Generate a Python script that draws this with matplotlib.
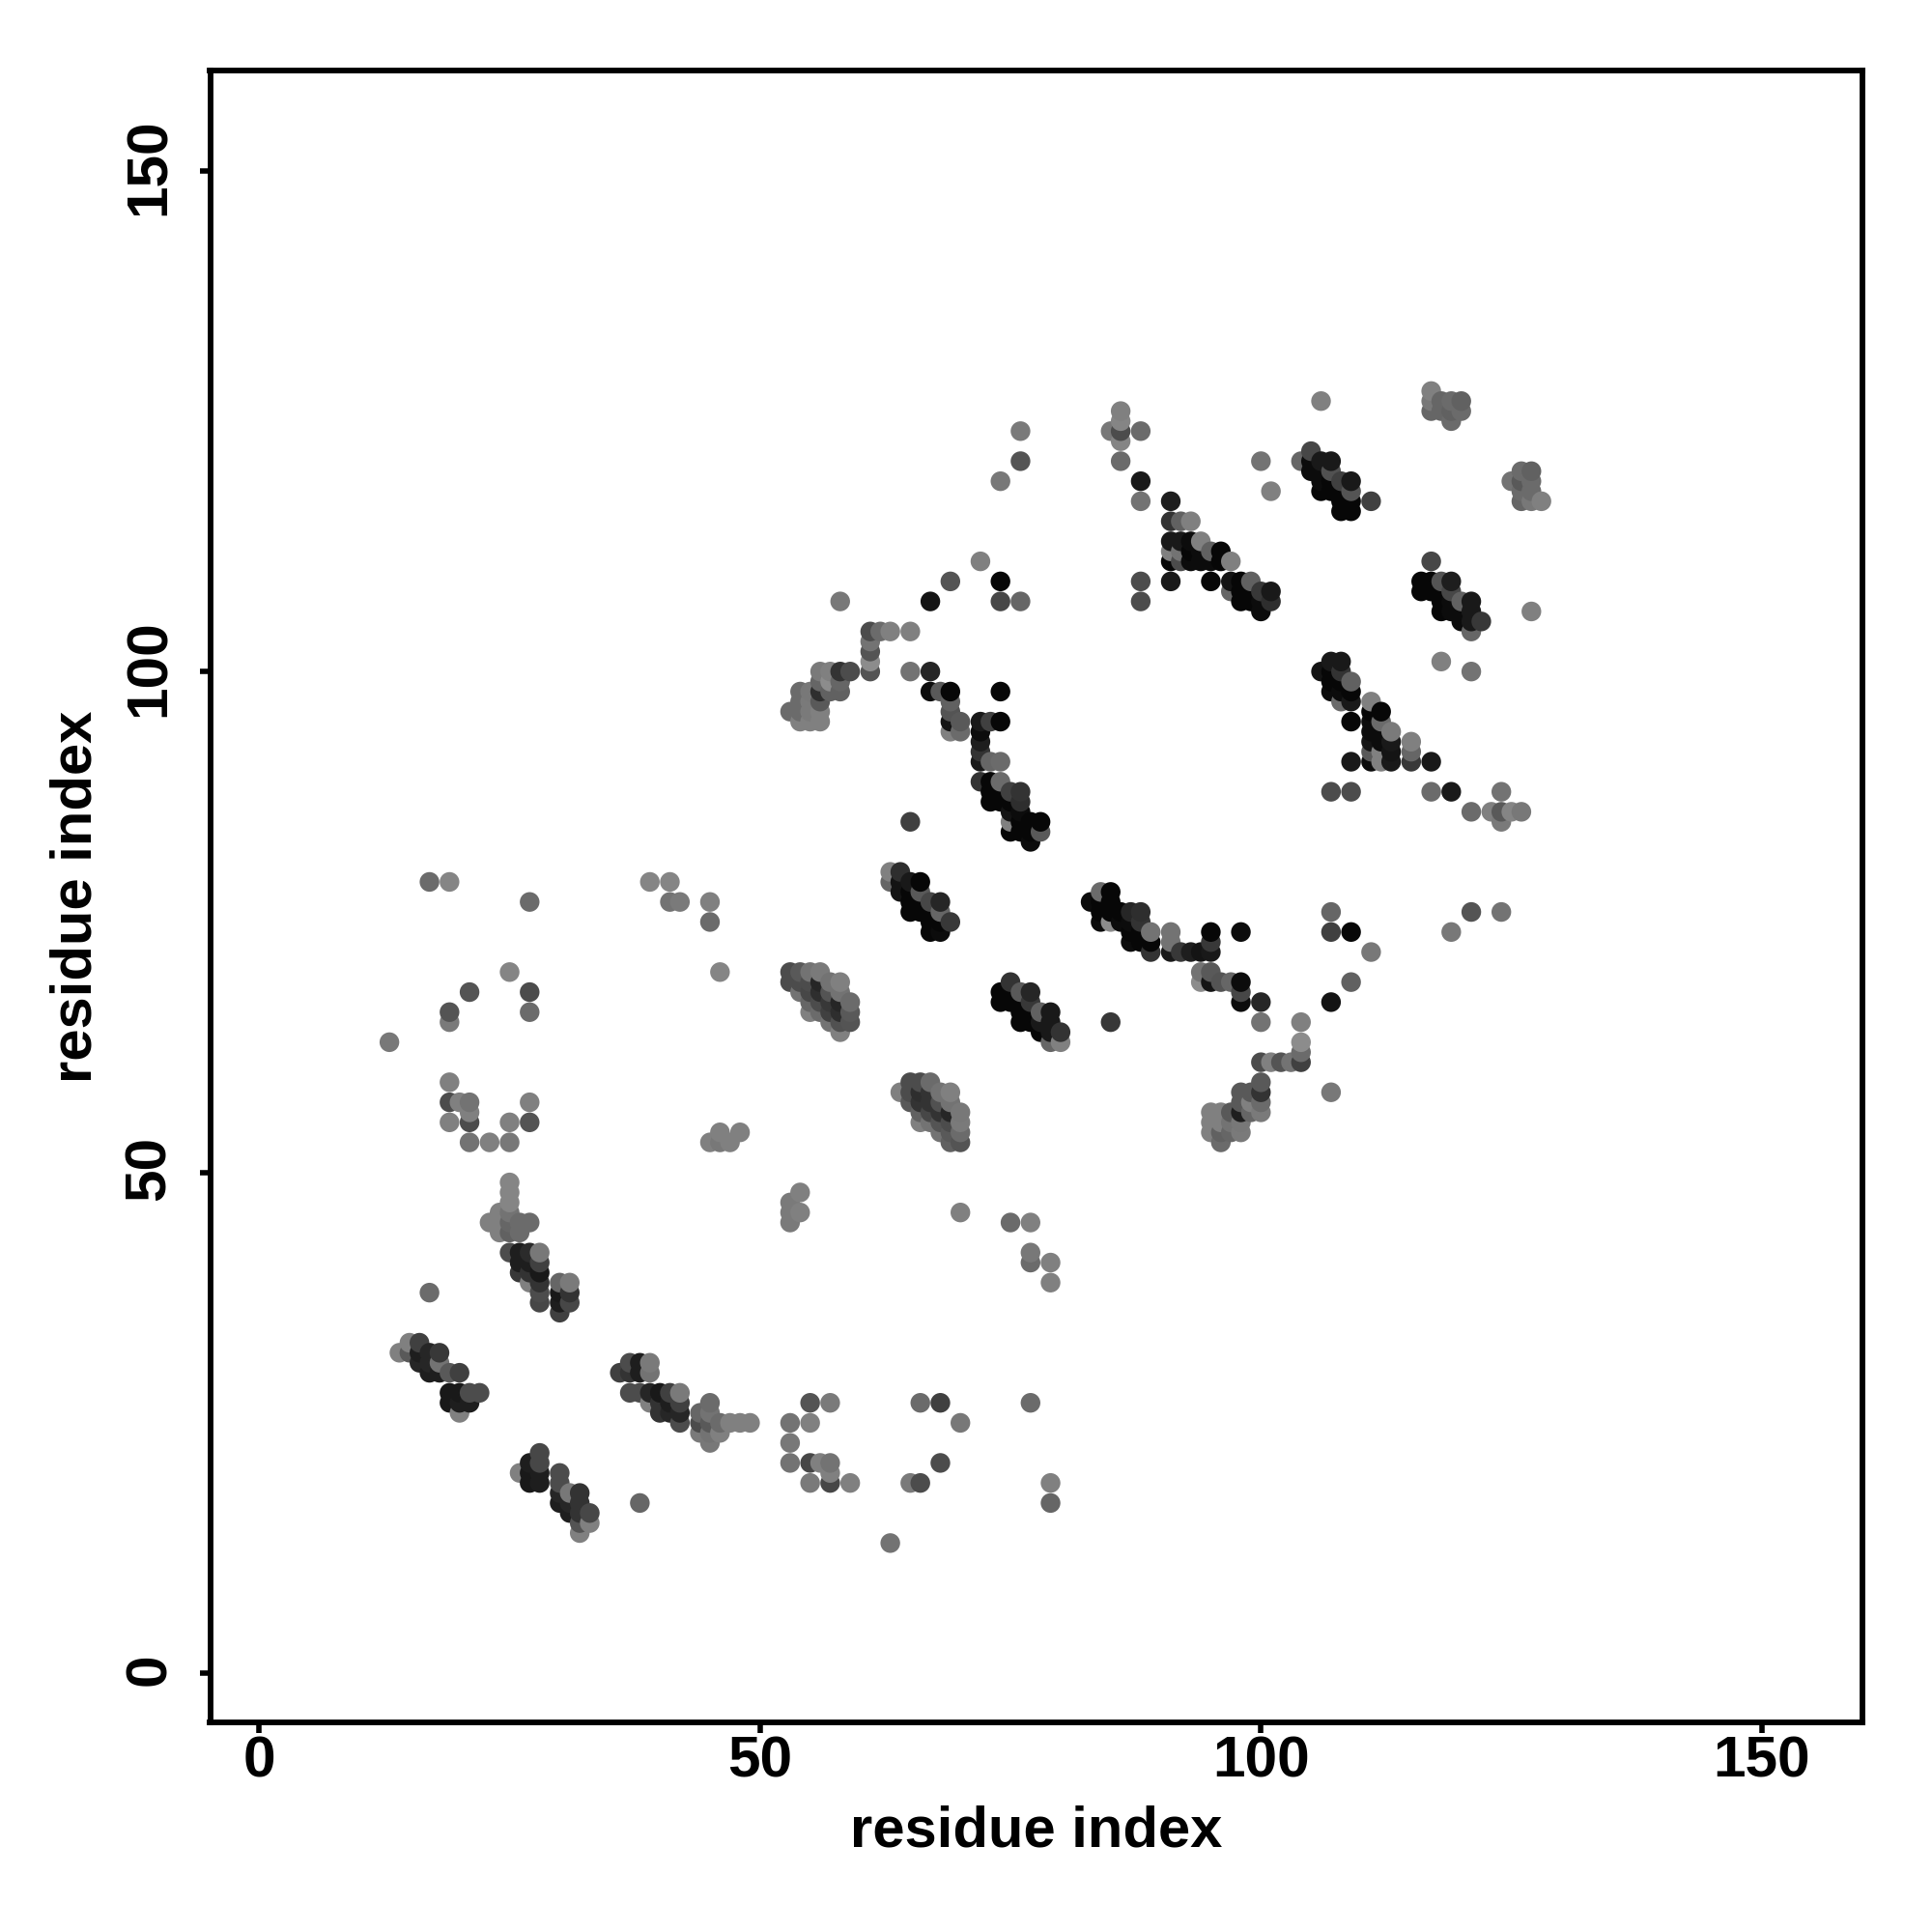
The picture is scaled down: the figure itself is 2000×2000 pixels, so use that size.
import numpy as np
import matplotlib
matplotlib.use("Agg")
import matplotlib.pyplot as plt
from matplotlib.transforms import ScaledTranslation

# (residue i, residue j, grey score), one list per patch
scattered_low = [
    (17,79,.42),(19,79,.52),(27,77,.42),(39,79,.52),(41,79,.52),(41,77,.45),(42,77,.48),(45,77,.5),(45,75,.42),
    (25,70,.52),(46,70,.52),(21,68,.33),(27,68,.3),(27,66,.42),(19,66,.33),(19,65,.48),(13,63,.47),(19,59,.5),
    (19,57,.3),(20,57,.5),(21,57,.45),(21,56,.5),(21,55,.3),(19,55,.5),(25,55,.5),(27,57,.5),(27,55,.33),
    (21,53,.45),(23,53,.5),(25,53,.47),(45,53,.5),(46,53,.47),(47,53,.5),(46,54,.5),(48,54,.5),(17,38,.42),(38,17,.4),
    (54,48,.5),(53,47,.48),(53,46,.48),(53,45,.48),(54,46,.5),(70,46,.5),(75,45,.42),(77,45,.5),(77,42,.47),
    (77,41,.42),(79,41,.5),(79,39,.5),
]
scattered_bottom = [
    (53,25,.45),(55,27,.33),(57,27,.48),(55,25,.5),(53,23,.47),(53,21,.45),(55,21,.28),(56,21,.5),(57,21,.45),
    (57,20,.5),(57,19,.28),(55,19,.48),(59,19,.5),(66,27,.42),(68,27,.25),(70,25,.47),(77,27,.42),(68,21,.3),
    (65,19,.48),(66,19,.3),(79,19,.5),(79,17,.4),(63,13,.45),
]
patch_25_45 = [
    (25,49,.52),(25,48,.52),(25,47,.52),(25,46,.45),(25,45,.4),(25,44,.38),(23,45,.5),(24,46,.5),(24,44,.5),(24,45,.5),
    (26,45,.42),(26,44,.42),(27,45,.42),(25,42,.3),(26,42,.12),(26,41,.12),(26,40,.22),(27,42,.17),(27,41,.12),
    (27,40,.2),(27,39,.5),(28,42,.47),(28,41,.25),(28,40,.1),(28,39,.2),(28,38,.3),(28,37,.28),(30,39,.4),(30,38,.1),
    (30,37,.12),(30,36,.25),(31,39,.48),(31,38,.2),(31,37,.28),
]
patch_15_30 = [
    (14,32,.5),(15,33,.5),(15,32,.35),(16,33,.25),(16,32,.12),(16,31,.15),(17,32,.15),(17,31,.15),(17,30,.12),
    (18,32,.22),(18,31,.45),(18,30,.12),(19,30,.35),(20,30,.25),(19,28,.1),(19,27,.1),(20,28,.1),(20,27,.12),
    (20,26,.5),(21,28,.3),(21,27,.12),(22,28,.3),
]
patch_37_28 = [
    (36,30,.25),(37,31,.3),(37,30,.2),(38,31,.12),(38,30,.12),(39,31,.48),(39,30,.45),(37,28,.3),(38,28,.3),
    (39,28,.15),(39,27,.5),(40,28,.1),(40,27,.2),(40,26,.2),(41,28,.25),(41,27,.12),(41,26,.15),(42,28,.48),
    (42,27,.25),(42,26,.15),(42,25,.3),(44,26,.4),(44,25,.3),(44,24,.48),(45,27,.42),(45,26,.45),(45,25,.35),
    (45,24,.45),(45,23,.47),(46,25,.42),(46,24,.5),(47,25,.5),(48,25,.5),(49,25,.5),
]
patch_28_18 = [
    (27,21,.12),(26,20,.5),(27,20,.1),(27,19,.1),(28,22,.28),(28,21,.28),(28,20,.12),(28,19,.12),(30,20,.3),
    (30,19,.3),(30,18,.15),(30,17,.12),(31,18,.47),(31,17,.15),(31,16,.12),(32,18,.2),(32,17,.2),(32,16,.2),
    (32,15,.33),(32,14,.5),(33,16,.28),(33,15,.5),
]
patch_67_56 = [
    (64,58,.5),(65,59,.3),(65,58,.3),(65,57,.35),(66,59,.3),(66,58,.18),(66,57,.2),(66,56,.38),(66,55,.5),(67,59,.42),
    (67,58,.2),(67,57,.2),(67,56,.28),(67,55,.45),(68,58,.45),(68,57,.32),(68,56,.2),(68,55,.33),(68,54,.45),
    (69,58,.5),(69,57,.45),(69,56,.15),(69,55,.3),(69,54,.35),(69,53,.38),(70,56,.47),(70,55,.48),(70,54,.42),(70,53,.33),
]
patch_56_67 = [
    (53,70,.3),(54,70,.35),(55,70,.45),(56,70,.48),(53,69,.3),(54,69,.3),(54,68,.45),(55,69,.3),(55,68,.28),(55,67,.4),
    (55,66,.5),(56,69,.15),(56,68,.18),(56,67,.3),(56,66,.42),(57,69,.45),(57,68,.33),(57,67,.22),(57,66,.25),(57,65,.45),
    (58,69,.5),(58,68,.45),(58,67,.15),(58,66,.18),(58,65,.32),(58,64,.5),(59,67,.42),(59,66,.35),(59,65,.33),
]
patch_77_66 = [
    (75,69,.2),(74,68,.03),(74,67,.03),(76,68,.35),(77,68,.15),(75,68,.03),(75,67,.03),(76,67,.03),(76,66,.03),(76,65,.03),
    (77,67,.22),(77,66,.03),(77,65,.03),(78,66,.38),(78,65,.1),(78,64,.03),(79,66,.1),(79,65,.1),(79,64,.1),(79,63,.4),
    (80,64,.2),(80,63,.5),(85,65,.22),
]
scattered_mid = [
    (72,111,.5),(69,109,.33),(74,109,.03),(58,107,.47),(67,107,.08),(74,107,.28),(76,107,.4),(88,109,.3),(88,107,.3),
    (65,104,.5),(65,100,.45),(67,100,.15),(74,98,.03),(65,85,.25),(76,124,.48),(76,121,.33),(74,119,.47),
]
patch_57_98 = [
    (61,104,.3),(62,104,.42),(63,104,.5),(61,103,.45),(61,102,.33),(61,101,.55),(61,100,.33),(56,100,.48),(57,100,.5),
    (58,100,.2),(59,100,.3),(56,99,.4),(54,98,.42),(55,98,.47),(56,98,.18),(57,98,.38),(58,98,.38),(57,99,.55),(58,99,.4),
    (56,97,.35),(54,97,.42),(55,97,.48),(53,96,.42),(54,96,.42),(55,96,.48),(56,96,.5),(54,95,.5),(55,95,.5),(56,95,.5),
]
patch_72_92 = [
    (67,98,.05),(68,98,.35),(69,98,.03),(69,97,.38),(69,96,.33),(69,95,.08),(69,94,.5),(70,95,.35),(70,94,.42),
    (72,95,.1),(73,95,.25),(74,95,.03),(72,94,.05),(72,93,.12),(72,92,.2),(72,91,.1),(73,91,.4),(74,91,.42),
]
patch_75_86 = [
    (72,89,.2),(73,89,.03),(74,89,.42),(73,88,.03),(73,87,.03),(74,88,.03),(74,87,.03),(75,88,.25),(76,88,.2),(75,87,.03),
    (76,87,.18),(75,86,.08),(76,86,.05),(75,85,.5),(75,84,.03),(76,85,.03),(76,84,.03),(77,85,.03),(77,84,.03),(77,83,.05),
    (78,85,.03),(78,84,.35),
]
patch_66_77 = [
    (63,80,.5),(63,79,.4),(64,80,.18),(64,79,.08),(64,78,.08),(65,79,.1),(65,78,.03),(65,77,.03),(65,76,.03),(66,79,.03),
    (66,78,.35),(66,77,.03),(66,76,.03),(67,77,.28),(67,76,.03),(67,75,.03),(67,74,.03),(68,77,.15),(68,76,.4),(68,75,.03),
    (68,74,.05),(69,75,.22),
]
patch_86_75 = [
    (83,77,.05),(84,78,.42),(85,78,.03),(84,77,.03),(84,76,.03),(84,75,.05),(85,77,.03),(85,76,.03),(85,75,.55),(86,76,.03),
    (86,75,.05),(87,76,.15),(87,75,.05),(87,74,.03),(87,73,.05),(88,76,.18),(88,75,.2),(88,74,.03),(88,73,.03),(89,74,.45),
    (89,73,.03),(89,72,.2),(91,74,.45),(91,73,.45),(91,72,.1),(92,72,.22),(93,72,.12),(94,72,.08),(95,74,.03),(95,73,.22),
    (95,72,.1),(98,74,.05),(94,70,.45),(94,69,.55),(95,70,.35),(95,69,.08),(96,69,.33),(97,69,.4),(98,69,.05),(98,68,.28),
    (98,67,.05),(100,67,.15),
]
patch_100_60 = [
    (100,65,.45),(104,65,.5),(104,63,.55),(104,62,.42),(104,61,.25),(100,61,.3),(101,61,.5),(102,61,.33),(103,61,.45),
    (100,59,.35),(100,58,.2),(100,57,.42),(100,56,.48),(98,58,.35),(99,58,.35),(98,57,.35),(99,57,.5),(98,56,.12),(99,56,.4),
    (97,56,.35),(95,56,.5),(96,56,.5),(95,55,.5),(96,55,.5),(97,55,.45),(98,55,.47),(95,54,.5),(96,54,.38),(97,54,.4),
    (98,54,.48),(96,53,.42),(107,58,.47),
]
scattered_right = [
    (107,76,.4),(107,74,.25),(109,74,.03),(109,69,.38),(107,67,.08),(111,72,.47),(121,76,.33),(124,76,.45),(119,74,.47),
    (107,88,.3),(109,88,.3),(117,88,.42),(119,88,.1),(124,88,.45),(121,86,.42),(123,86,.5),(124,86,.35),(124,85,.48),
    (125,86,.52),(126,86,.47),(121,100,.45),(118,101,.5),(127,106,.5),(100,121,.45),(101,118,.5),(106,127,.5),
]
patch_86_124 = [
    (86,126,.5),(86,125,.52),(86,124,.3),(86,123,.52),(85,124,.47),(88,124,.42),(86,121,.42),(88,119,.1),(88,117,.45),
]
patch_95_112 = [
    (91,117,.12),(91,115,.2),(92,115,.38),(93,115,.5),(91,113,.1),(92,113,.1),(93,113,.05),(94,113,.5),(91,112,.5),(92,112,.45),
    (93,112,.03),(94,112,.05),(95,112,.38),(96,112,.03),(91,111,.03),(92,111,.3),(93,111,.05),(94,111,.05),(95,111,.05),
    (96,111,.03),(97,111,.5),(91,109,.1),(95,109,.03),(97,109,.08),(98,109,.03),(99,109,.38),(97,108,.4),(98,108,.03),
    (98,107,.03),(99,108,.03),(99,107,.03),(100,108,.22),(100,107,.05),(100,106,.05),(101,108,.1),(101,107,.18),
]
patch_107_119 = [
    (104,121,.4),(105,122,.28),(105,121,.05),(105,120,.05),(106,121,.1),(106,120,.05),(106,119,.05),(106,118,.03),(107,121,.1),
    (107,120,.32),(107,119,.03),(107,118,.03),(108,119,.25),(108,118,.03),(108,117,.03),(108,116,.03),(109,119,.1),(109,118,.33),
    (109,117,.03),(109,116,.03),(111,117,.25),
]
patch_119_126 = [
    (117,128,.5),(117,127,.47),(117,126,.4),(118,127,.4),(118,126,.4),(119,127,.42),(119,126,.38),(119,125,.42),(120,127,.38),(120,126,.42),
]
patch_126_119 = [
    (125,119,.45),(126,120,.42),(126,119,.35),(126,118,.42),(126,117,.4),(127,120,.38),(127,119,.42),(127,118,.42),(127,117,.47),(128,117,.5),
]
patch_119_107 = [
    (117,111,.28),(116,109,.03),(116,108,.03),(117,109,.03),(117,108,.03),(118,109,.33),(118,108,.03),(118,107,.03),(118,106,.03),
    (119,109,.12),(119,108,.28),(119,107,.05),(119,106,.05),(120,107,.38),(120,106,.05),(120,105,.05),(121,107,.1),(121,106,.1),
    (121,105,.1),(121,104,.4),(122,105,.22),
]
patch_108_99 = [
    (106,100,.08),(107,101,.1),(108,101,.1),(107,100,.03),(108,100,.2),(109,99,.38),(107,99,.03),(108,99,.03),(107,98,.05),
    (108,98,.05),(109,98,.03),(108,97,.42),(109,97,.1),(109,95,.03),
]
patch_112_93 = [
    (111,97,.5),(111,96,.03),(112,96,.03),(111,95,.05),(112,95,.42),(111,94,.05),(112,94,.05),(113,94,.48),(111,93,.08),(112,93,.05),
    (113,93,.1),(111,92,.35),(112,92,.5),(113,92,.08),(111,91,.05),(112,91,.5),(113,91,.1),(115,93,.5),(115,92,.4),(115,91,.22),
    (117,91,.1),(109,91,.1),
]

patches = [scattered_low, scattered_bottom, patch_25_45, patch_15_30, patch_37_28, patch_28_18, patch_67_56, patch_56_67,
           patch_77_66, scattered_mid, patch_57_98, patch_72_92, patch_75_86, patch_66_77, patch_86_75, patch_100_60,
           scattered_right, patch_86_124, patch_95_112, patch_107_119, patch_119_126, patch_126_119, patch_119_107,
           patch_108_99, patch_112_93]

tick_values = [0, 50, 100, 150]

plt.rcParams['font.family'] = ['Liberation Sans', 'DejaVu Sans']
plt.rcParams['font.weight'] = 'bold'

# the original paints column by column, later circles sit on top
points = sorted({(p[0], p[1]): p for patch in patches for p in patch}.values(), key=lambda p: (p[0], p[1]))
xs = np.array([p[0] for p in points])
ys = np.array([p[1] for p in points])
score = np.array([p[2] for p in points])

fig = plt.figure(figsize=(20, 20), dpi=100)
ax = fig.add_axes([217.5 / 2000, 1 - 1783 / 2000, 1710 / 2000, 1710 / 2000])

ax.scatter(xs, ys, c=score, cmap='gray', vmin=0, vmax=1, s=215, linewidths=0)

ax.set_xlim(-4.9, 160)
ax.set_ylim(-4.9, 160)
ax.set_xticks(tick_values)
ax.set_yticks(tick_values)
ax.tick_params(length=8, width=4, labelsize=43.5)
ax.tick_params(axis='x', pad=2)
ax.tick_params(axis='y', pad=17)
# nudge the rotated labels up so they centre on their ticks
nudge = ScaledTranslation(0, 4 / 100, fig.dpi_scale_trans)
for lab in ax.get_yticklabels():
    lab.set_rotation(90)
    lab.set_va('center')
    lab.set_transform(lab.get_transform() + nudge)
for s in ax.spines.values():
    s.set_linewidth(4.2)
ax.set_xlabel('residue index', fontsize=43, fontweight='bold', labelpad=12)
ax.set_ylabel('residue index', fontsize=43, fontweight='bold', labelpad=15)

fig.savefig('out.png', dpi=100)
